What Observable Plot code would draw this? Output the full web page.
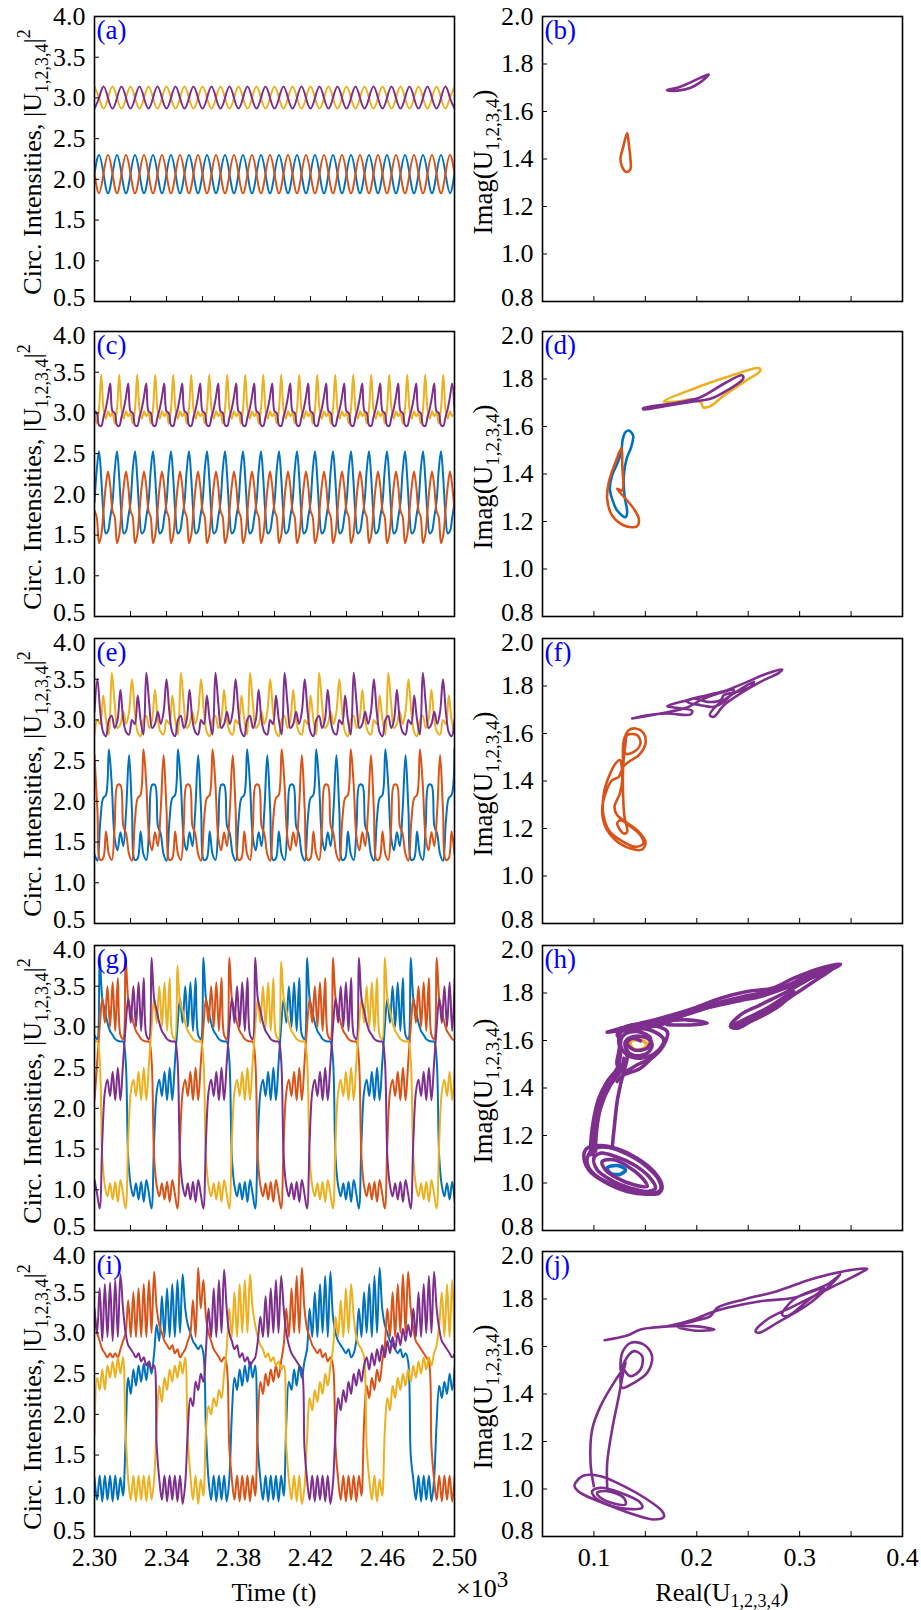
<!DOCTYPE html>
<html><head><meta charset="utf-8">
<script src="https://cdn.jsdelivr.net/npm/d3@7"></script>
<script src="https://cdn.jsdelivr.net/npm/@observablehq/plot@0.6"></script>
<style>
body{margin:0;background:#fff;}
#fig{position:relative;width:921px;height:1610px;overflow:hidden;}
#fig svg{position:absolute;}
</style></head><body><div id="fig"></div>
<script>
// ---------- colours / series ----------
const COLORS = {blue:"#0072BD", orange:"#D95319", yellow:"#EDB120", purple:"#7E2F8E"};
const SERIES = ["blue","orange","yellow","purple"];

// ---------- tick values ----------
const tLabelTicks = [2.30, 2.34, 2.38, 2.42, 2.46, 2.50];
const tMinorTicks = [2.32, 2.34, 2.36, 2.38, 2.40, 2.42, 2.44, 2.46, 2.48];
const intensityTicks = [0.5, 1.0, 1.5, 2.0, 2.5, 3.0, 3.5, 4.0];
const intensityMinor = [1.0, 1.5, 2.0, 2.5, 3.0, 3.5];
const reLabelTicks = [0.1, 0.2, 0.3, 0.4];
const reMinorTicks = [0.1, 0.15, 0.2, 0.25, 0.3, 0.35];
const imTicks = [0.8, 1.0, 1.2, 1.4, 1.6, 1.8, 2.0];
const imMinor = [1.0, 1.2, 1.4, 1.6, 1.8];
const panelLabels = ["(a)","(b)","(c)","(d)","(e)","(f)","(g)","(h)","(i)","(j)"];

// ---------- time series (values at knots, time step dt in units of 10^3) ----------
const T0 = 2.30;
const dtA = 0.0025;
const aBlue = [
2.07,2.30,2.07,1.83,2.07,2.30,2.07,1.83,2.07,2.30,2.07,1.83,2.07,2.30,2.07,1.83,2.07,2.30,2.07,1.83,
2.07,2.30,2.07,1.83,2.07,2.30,2.07,1.83,2.07,2.30,2.07,1.83,2.07,2.30,2.07,1.83,2.07,2.30,2.07,1.83,
2.07,2.30,2.07,1.83,2.07,2.30,2.07,1.83,2.07,2.30,2.07,1.83,2.07,2.30,2.07,1.83,2.07,2.30,2.07,1.83,
2.07,2.30,2.07,1.83,2.07,2.30,2.07,1.83,2.07,2.30,2.07,1.83,2.07,2.30,2.07,1.83,2.07,2.30,2.07,1.83,
2.07];
const aOrange = [
2.07,1.83,2.07,2.30,2.07,1.83,2.07,2.30,2.07,1.83,2.07,2.30,2.07,1.83,2.07,2.30,2.07,1.83,2.07,2.30,
2.07,1.83,2.07,2.30,2.07,1.83,2.07,2.30,2.07,1.83,2.07,2.30,2.07,1.83,2.07,2.30,2.07,1.83,2.07,2.30,
2.07,1.83,2.07,2.30,2.07,1.83,2.07,2.30,2.07,1.83,2.07,2.30,2.07,1.83,2.07,2.30,2.07,1.83,2.07,2.30,
2.07,1.83,2.07,2.30,2.07,1.83,2.07,2.30,2.07,1.83,2.07,2.30,2.07,1.83,2.07,2.30,2.07,1.83,2.07,2.30,
2.07];
const aYellow = [
3.14,3.0,2.87,3.0,3.14,3.0,2.87,3.0,3.14,3.0,2.87,3.0,3.14,3.0,2.87,3.0,3.14,3.0,2.87,3.0,
3.14,3.0,2.87,3.0,3.14,3.0,2.87,3.0,3.14,3.0,2.87,3.0,3.14,3.0,2.87,3.0,3.14,3.0,2.87,3.0,
3.14,3.0,2.87,3.0,3.14,3.0,2.87,3.0,3.14,3.0,2.87,3.0,3.14,3.0,2.87,3.0,3.14,3.0,2.87,3.0,
3.14,3.0,2.87,3.0,3.14,3.0,2.87,3.0,3.14,3.0,2.87,3.0,3.14,3.0,2.87,3.0,3.14,3.0,2.87,3.0,
3.14];
const aPurple = [
2.87,3.0,3.14,3.0,2.87,3.0,3.14,3.0,2.87,3.0,3.14,3.0,2.87,3.0,3.14,3.0,2.87,3.0,3.14,3.0,
2.87,3.0,3.14,3.0,2.87,3.0,3.14,3.0,2.87,3.0,3.14,3.0,2.87,3.0,3.14,3.0,2.87,3.0,3.14,3.0,
2.87,3.0,3.14,3.0,2.87,3.0,3.14,3.0,2.87,3.0,3.14,3.0,2.87,3.0,3.14,3.0,2.87,3.0,3.14,3.0,
2.87,3.0,3.14,3.0,2.87,3.0,3.14,3.0,2.87,3.0,3.14,3.0,2.87,3.0,3.14,3.0,2.87,3.0,3.14,3.0,
2.87];

const dtC = 0.00125;
const cBlue = [
1.9,2.3,2.53,2.2,1.75,1.52,1.55,1.72,1.9,2.3,2.53,2.2,1.75,1.52,1.55,1.72,
1.9,2.3,2.53,2.2,1.75,1.52,1.55,1.72,1.9,2.3,2.53,2.2,1.75,1.52,1.55,1.72,
1.9,2.3,2.53,2.2,1.75,1.52,1.55,1.72,1.9,2.3,2.53,2.2,1.75,1.52,1.55,1.72,
1.9,2.3,2.53,2.2,1.75,1.52,1.55,1.72,1.9,2.3,2.53,2.2,1.75,1.52,1.55,1.72,
1.9,2.3,2.53,2.2,1.75,1.52,1.55,1.72,1.9,2.3,2.53,2.2,1.75,1.52,1.55,1.72,
1.9,2.3,2.53,2.2,1.75,1.52,1.55,1.72,1.9,2.3,2.53,2.2,1.75,1.52,1.55,1.72,
1.9,2.3,2.53,2.2,1.75,1.52,1.55,1.72,1.9,2.3,2.53,2.2,1.75,1.52,1.55,1.72,
1.9,2.3,2.53,2.2,1.75,1.52,1.55,1.72,1.9,2.3,2.53,2.2,1.75,1.52,1.55,1.72,
1.9,2.3,2.53,2.2,1.75,1.52,1.55,1.72,1.9,2.3,2.53,2.2,1.75,1.52,1.55,1.72,
1.9,2.3,2.53,2.2,1.75,1.52,1.55,1.72,1.9,2.3,2.53,2.2,1.75,1.52,1.55,1.72,
1.9];
const cOrange = [
1.8,1.72,1.40,1.5,1.8,2.1,2.28,2.1,1.8,1.72,1.40,1.5,1.8,2.1,2.28,2.1,
1.8,1.72,1.40,1.5,1.8,2.1,2.28,2.1,1.8,1.72,1.40,1.5,1.8,2.1,2.28,2.1,
1.8,1.72,1.40,1.5,1.8,2.1,2.28,2.1,1.8,1.72,1.40,1.5,1.8,2.1,2.28,2.1,
1.8,1.72,1.40,1.5,1.8,2.1,2.28,2.1,1.8,1.72,1.40,1.5,1.8,2.1,2.28,2.1,
1.8,1.72,1.40,1.5,1.8,2.1,2.28,2.1,1.8,1.72,1.40,1.5,1.8,2.1,2.28,2.1,
1.8,1.72,1.40,1.5,1.8,2.1,2.28,2.1,1.8,1.72,1.40,1.5,1.8,2.1,2.28,2.1,
1.8,1.72,1.40,1.5,1.8,2.1,2.28,2.1,1.8,1.72,1.40,1.5,1.8,2.1,2.28,2.1,
1.8,1.72,1.40,1.5,1.8,2.1,2.28,2.1,1.8,1.72,1.40,1.5,1.8,2.1,2.28,2.1,
1.8,1.72,1.40,1.5,1.8,2.1,2.28,2.1,1.8,1.72,1.40,1.5,1.8,2.1,2.28,2.1,
1.8,1.72,1.40,1.5,1.8,2.1,2.28,2.1,1.8,1.72,1.40,1.5,1.8,2.1,2.28,2.1,
1.8];
const cYellow = [
3.0,2.87,3.05,3.47,3.05,2.93,3.02,2.96,3.0,2.87,3.05,3.47,3.05,2.93,3.02,2.96,
3.0,2.87,3.05,3.47,3.05,2.93,3.02,2.96,3.0,2.87,3.05,3.47,3.05,2.93,3.02,2.96,
3.0,2.87,3.05,3.47,3.05,2.93,3.02,2.96,3.0,2.87,3.05,3.47,3.05,2.93,3.02,2.96,
3.0,2.87,3.05,3.47,3.05,2.93,3.02,2.96,3.0,2.87,3.05,3.47,3.05,2.93,3.02,2.96,
3.0,2.87,3.05,3.47,3.05,2.93,3.02,2.96,3.0,2.87,3.05,3.47,3.05,2.93,3.02,2.96,
3.0,2.87,3.05,3.47,3.05,2.93,3.02,2.96,3.0,2.87,3.05,3.47,3.05,2.93,3.02,2.96,
3.0,2.87,3.05,3.47,3.05,2.93,3.02,2.96,3.0,2.87,3.05,3.47,3.05,2.93,3.02,2.96,
3.0,2.87,3.05,3.47,3.05,2.93,3.02,2.96,3.0,2.87,3.05,3.47,3.05,2.93,3.02,2.96,
3.0,2.87,3.05,3.47,3.05,2.93,3.02,2.96,3.0,2.87,3.05,3.47,3.05,2.93,3.02,2.96,
3.0,2.87,3.05,3.47,3.05,2.93,3.02,2.96,3.0,2.87,3.05,3.47,3.05,2.93,3.02,2.96,
3.0];
const cPurple = [
3.02,3.0,2.85,2.84,2.95,3.05,3.2,3.36,3.02,3.0,2.85,2.84,2.95,3.05,3.2,3.36,
3.02,3.0,2.85,2.84,2.95,3.05,3.2,3.36,3.02,3.0,2.85,2.84,2.95,3.05,3.2,3.36,
3.02,3.0,2.85,2.84,2.95,3.05,3.2,3.36,3.02,3.0,2.85,2.84,2.95,3.05,3.2,3.36,
3.02,3.0,2.85,2.84,2.95,3.05,3.2,3.36,3.02,3.0,2.85,2.84,2.95,3.05,3.2,3.36,
3.02,3.0,2.85,2.84,2.95,3.05,3.2,3.36,3.02,3.0,2.85,2.84,2.95,3.05,3.2,3.36,
3.02,3.0,2.85,2.84,2.95,3.05,3.2,3.36,3.02,3.0,2.85,2.84,2.95,3.05,3.2,3.36,
3.02,3.0,2.85,2.84,2.95,3.05,3.2,3.36,3.02,3.0,2.85,2.84,2.95,3.05,3.2,3.36,
3.02,3.0,2.85,2.84,2.95,3.05,3.2,3.36,3.02,3.0,2.85,2.84,2.95,3.05,3.2,3.36,
3.02,3.0,2.85,2.84,2.95,3.05,3.2,3.36,3.02,3.0,2.85,2.84,2.95,3.05,3.2,3.36,
3.02,3.0,2.85,2.84,2.95,3.05,3.2,3.36,3.02,3.0,2.85,2.84,2.95,3.05,3.2,3.36,
3.02];

const dtE = 0.0016;
const eBlue = [
1.35,1.27,1.75,2.04,2.08,2.64,2.2,1.55,1.4,1.62,1.45,1.9,2.57,1.9,1.28,1.3,1.63,1.35,1.28,1.7,2.2,2.2,1.7,1.6,
1.35,1.27,1.75,2.04,2.08,2.64,2.2,1.55,1.4,1.62,1.45,1.9,2.57,1.9,1.28,1.3,1.63,1.35,1.28,1.7,2.2,2.2,1.7,1.6,
1.35,1.27,1.75,2.04,2.08,2.64,2.2,1.55,1.4,1.62,1.45,1.9,2.57,1.9,1.28,1.3,1.63,1.35,1.28,1.7,2.2,2.2,1.7,1.6,
1.35,1.27,1.75,2.04,2.08,2.64,2.2,1.55,1.4,1.62,1.45,1.9,2.57,1.9,1.28,1.3,1.63,1.35,1.28,1.7,2.2,2.2,1.7,1.6,
1.35,1.27,1.75,2.04,2.08,2.64,2.2,1.55,1.4,1.62,1.45,1.9,2.57,1.9,1.28,1.3,1.63,1.35,1.28,1.7,2.2,2.2,1.7,1.6,
1.35,1.27,1.75,2.04,2.08,2.64];
const eOrange = [
2.57,1.9,1.28,1.3,1.63,1.35,1.28,1.7,2.2,2.2,1.7,1.6,1.35,1.27,1.75,2.04,2.08,2.64,2.2,1.55,1.4,1.62,1.45,1.9,
2.57,1.9,1.28,1.3,1.63,1.35,1.28,1.7,2.2,2.2,1.7,1.6,1.35,1.27,1.75,2.04,2.08,2.64,2.2,1.55,1.4,1.62,1.45,1.9,
2.57,1.9,1.28,1.3,1.63,1.35,1.28,1.7,2.2,2.2,1.7,1.6,1.35,1.27,1.75,2.04,2.08,2.64,2.2,1.55,1.4,1.62,1.45,1.9,
2.57,1.9,1.28,1.3,1.63,1.35,1.28,1.7,2.2,2.2,1.7,1.6,1.35,1.27,1.75,2.04,2.08,2.64,2.2,1.55,1.4,1.62,1.45,1.9,
2.57,1.9,1.28,1.3,1.63,1.35,1.28,1.7,2.2,2.2,1.7,1.6,1.35,1.27,1.75,2.04,2.08,2.64,2.2,1.55,1.4,1.62,1.45,1.9,
2.57,1.9,1.28,1.3,1.63,1.35];
const eYellow = [
2.82,3.0,2.95,3.3,3.0,2.82,3.58,3.2,2.9,2.95,3.1,2.95,3.1,3.5,3.1,2.85,2.8,3.0,3.05,2.9,3.0,3.37,3.0,2.85,
2.82,3.0,2.95,3.3,3.0,2.82,3.58,3.2,2.9,2.95,3.1,2.95,3.1,3.5,3.1,2.85,2.8,3.0,3.05,2.9,3.0,3.37,3.0,2.85,
2.82,3.0,2.95,3.3,3.0,2.82,3.58,3.2,2.9,2.95,3.1,2.95,3.1,3.5,3.1,2.85,2.8,3.0,3.05,2.9,3.0,3.37,3.0,2.85,
2.82,3.0,2.95,3.3,3.0,2.82,3.58,3.2,2.9,2.95,3.1,2.95,3.1,3.5,3.1,2.85,2.8,3.0,3.05,2.9,3.0,3.37,3.0,2.85,
2.82,3.0,2.95,3.3,3.0,2.82,3.58,3.2,2.9,2.95,3.1,2.95,3.1,3.5,3.1,2.85,2.8,3.0,3.05,2.9,3.0,3.37,3.0,2.85,
2.82,3.0,2.95,3.3,3.0,2.82];
const ePurple = [
3.1,3.5,3.1,2.85,2.8,3.0,3.05,2.9,3.0,3.37,3.0,2.85,2.82,3.0,2.95,3.3,3.0,2.82,3.58,3.2,2.9,2.95,3.1,2.95,
3.1,3.5,3.1,2.85,2.8,3.0,3.05,2.9,3.0,3.37,3.0,2.85,2.82,3.0,2.95,3.3,3.0,2.82,3.58,3.2,2.9,2.95,3.1,2.95,
3.1,3.5,3.1,2.85,2.8,3.0,3.05,2.9,3.0,3.37,3.0,2.85,2.82,3.0,2.95,3.3,3.0,2.82,3.58,3.2,2.9,2.95,3.1,2.95,
3.1,3.5,3.1,2.85,2.8,3.0,3.05,2.9,3.0,3.37,3.0,2.85,2.82,3.0,2.95,3.3,3.0,2.82,3.58,3.2,2.9,2.95,3.1,2.95,
3.1,3.5,3.1,2.85,2.8,3.0,3.05,2.9,3.0,3.37,3.0,2.85,2.82,3.0,2.95,3.3,3.0,2.82,3.58,3.2,2.9,2.95,3.1,2.95,
3.1,3.5,3.1,2.85,2.8,3.0];

const dtG = 0.00144;
const gBlue = [
2.9,2.85,
3.85,3.35,3.2,3.05,2.95,2.9,2.85,2.83,2.82,2.82,2.6,1.4,1.05,0.92,1.08,0.88,1.1,0.85,1.12,0.95,0.77,1.6,2.2,2.35,2.15,2.45,2.1,2.5,2.1,2.55,3.0,3.35,3.05,3.5,3.0,3.55,2.95,3.6,2.9,2.85,
3.85,3.35,3.2,3.05,2.95,2.9,2.85,2.83,2.82,2.82,2.6,1.4,1.05,0.92,1.08,0.88,1.1,0.85,1.12,0.95,0.77,1.6,2.2,2.35,2.15,2.45,2.1,2.5,2.1,2.55,3.0,3.35,3.05,3.5,3.0,3.55,2.95,3.6,2.9,2.85,
3.85,3.35,3.2,3.05,2.95,2.9,2.85,2.83,2.82,2.82,2.6,1.4,1.05,0.92,1.08,0.88,1.1,0.85,1.12,0.95,0.77,1.6,2.2,2.35,2.15,2.45,2.1,2.5,2.1,2.55,3.0,3.35,3.05,3.5,3.0,3.55,2.95,3.6,2.9,2.85,
3.85,3.35,3.2,3.05,2.95,2.9,2.85,2.83,2.82,2.82,2.6,1.4,1.05,0.92,1.08,0.88,1.1,0.85];
const gOrange = [
2.1,2.55,3.0,3.35,3.05,3.5,3.0,3.55,2.95,3.6,2.9,2.85,
3.85,3.35,3.2,3.05,2.95,2.9,2.85,2.83,2.82,2.82,2.6,1.4,1.05,0.92,1.08,0.88,1.1,0.85,1.12,0.95,0.77,1.6,2.2,2.35,2.15,2.45,2.1,2.5,2.1,2.55,3.0,3.35,3.05,3.5,3.0,3.55,2.95,3.6,2.9,2.85,
3.85,3.35,3.2,3.05,2.95,2.9,2.85,2.83,2.82,2.82,2.6,1.4,1.05,0.92,1.08,0.88,1.1,0.85,1.12,0.95,0.77,1.6,2.2,2.35,2.15,2.45,2.1,2.5,2.1,2.55,3.0,3.35,3.05,3.5,3.0,3.55,2.95,3.6,2.9,2.85,
3.85,3.35,3.2,3.05,2.95,2.9,2.85,2.83,2.82,2.82,2.6,1.4,1.05,0.92,1.08,0.88,1.1,0.85,1.12,0.95,0.77,1.6,2.2,2.35,2.15,2.45,2.1,2.5,2.1,2.55,3.0,3.35,3.05,3.5,3.0,3.55,2.95,3.6,2.9,2.85,
3.85,3.35,3.2,3.05,2.95,2.9,2.85,2.83];
const gPurple = [
1.12,0.95,0.77,1.6,2.2,2.35,2.15,2.45,2.1,2.5,2.1,2.55,3.0,3.35,3.05,3.5,3.0,3.55,2.95,3.6,2.9,2.85,
3.85,3.35,3.2,3.05,2.95,2.9,2.85,2.83,2.82,2.82,2.6,1.4,1.05,0.92,1.08,0.88,1.1,0.85,1.12,0.95,0.77,1.6,2.2,2.35,2.15,2.45,2.1,2.5,2.1,2.55,3.0,3.35,3.05,3.5,3.0,3.55,2.95,3.6,2.9,2.85,
3.85,3.35,3.2,3.05,2.95,2.9,2.85,2.83,2.82,2.82,2.6,1.4,1.05,0.92,1.08,0.88,1.1,0.85,1.12,0.95,0.77,1.6,2.2,2.35,2.15,2.45,2.1,2.5,2.1,2.55,3.0,3.35,3.05,3.5,3.0,3.55,2.95,3.6,2.9,2.85,
3.85,3.35,3.2,3.05,2.95,2.9,2.85,2.83,2.82,2.82,2.6,1.4,1.05,0.92,1.08,0.88,1.1,0.85,1.12,0.95,0.77,1.6,2.2,2.35,2.15,2.45,2.1,2.5,2.1,2.55,3.0,3.35,3.05,3.5,3.0,3.55,2.95,3.6];
const gYellow = [
2.82,2.82,2.6,1.4,1.05,0.92,1.08,0.88,1.1,0.85,1.12,0.95,0.77,1.6,2.2,2.35,2.15,2.45,2.1,2.5,2.1,2.55,3.0,3.35,3.05,3.5,3.0,3.55,2.95,3.6,2.9,2.85,
3.75,3.3,3.2,3.05,2.95,2.9,2.85,2.83,2.82,2.82,2.6,1.4,1.05,0.92,1.08,0.88,1.1,0.85,1.12,0.95,0.77,1.6,2.2,2.35,2.15,2.45,2.1,2.5,2.1,2.55,3.0,3.35,3.05,3.5,3.0,3.55,2.95,3.6,2.9,2.85,
3.8,3.35,3.2,3.05,2.95,2.9,2.85,2.83,2.82,2.82,2.6,1.4,1.05,0.92,1.08,0.88,1.1,0.85,1.12,0.95,0.77,1.6,2.2,2.35,2.15,2.45,2.1,2.5,2.1,2.55,3.0,3.35,3.05,3.5,3.0,3.55,2.95,3.6,2.9,2.85,
3.85,3.35,3.2,3.05,2.95,2.9,2.85,2.83,2.82,2.82,2.6,1.4,1.05,0.92,1.08,0.88,1.1,0.85,1.12,0.95,0.77,1.6,2.2,2.35,2.15,2.45,2.1,2.5];

const dtI = 0.00144;
const iBlue = [
1.22,0.95,1.25,0.93,1.25,0.95,1.25,0.93,1.25,0.95,1.22,1.0,
1.7,2.45,
2.25,2.55,2.35,2.6,2.4,2.62,2.42,2.65,2.5,2.75,
3.1,2.9,3.45,2.95,3.55,2.95,3.6,2.95,3.65,3.0,3.72,3.3,
3.1,3.0,2.9,2.85,2.8,2.85,2.75,
1.8,
1.2,0.95,1.25,0.93,1.25,0.95,1.25,0.93,1.2,
2.0,
2.45,2.3,2.55,2.35,2.6,2.4,2.65,2.45,2.6,
1.6,
1.2,0.95,1.25,0.93,1.25,0.95,1.25,0.93,1.25,1.0,
1.9,
2.4,2.3,2.55,2.35,2.6,2.45,2.65,2.8,
3.3,2.95,3.5,2.95,3.6,3.0,3.7,2.95,3.75,3.2,
3.0,2.9,2.85,2.8,2.75,2.8,2.7,2.75,2.9,
3.3,2.95,3.5,3.0,3.6,2.95,3.7,3.0,3.8,3.3,
3.1,3.0,2.9,2.85,2.8,2.75,2.8,2.7,2.75,2.65,
1.5,
1.2,0.95,1.25,0.93,1.25,0.95,1.25,0.93,1.2,
1.9,
2.35,2.2,2.4,2.25,2.5,2.3,2.6];
const iOrange = [
3.25,3.0,2.9,2.8,2.75,2.7,2.75,2.7,2.75,2.7,2.8,2.9,3.0,
3.4,2.95,3.5,2.95,3.55,2.95,3.6,2.95,3.65,3.0,3.75,3.3,
3.1,3.0,2.9,2.85,2.8,2.85,2.75,2.8,2.7,2.75,2.8,2.9,3.0,
3.4,2.95,3.8,3.3,3.65,3.2,
3.0,2.9,2.8,2.75,2.7,2.65,2.7,2.6,
1.6,
1.2,0.95,1.25,0.93,1.25,0.95,1.25,0.93,1.25,1.0,
1.9,
2.4,2.25,2.5,2.35,2.55,2.4,2.6,2.45,2.65,2.85,
3.3,2.95,3.55,3.0,3.7,3.0,3.8,
3.3,3.05,2.95,2.85,2.8,2.75,2.8,2.7,2.75,2.65,2.7,2.6,
1.6,
1.2,0.95,1.25,0.93,1.25,0.95,1.25,0.93,1.25,1.0,
1.9,
2.35,2.2,2.45,2.3,2.55,2.4,2.65,2.85,
3.3,2.95,3.5,2.95,3.6,3.0,3.72,3.0,3.75,
3.3,3.05,2.9,2.85,2.8,2.75,2.7,2.65,
1.6,
1.2,0.95,1.25,0.93,1.25,0.95,1.25,0.93,1.25];
const iYellow = [
1.75,2.45,
2.3,2.55,2.3,2.6,2.45,2.65,2.45,2.7,2.5,2.7,
1.8,
1.2,0.95,1.25,0.93,1.25,0.95,1.25,0.93,1.25,0.95,1.2,
1.9,
2.35,2.15,2.45,2.3,2.55,2.4,2.6,2.45,2.65,2.5,2.7,
1.7,
1.25,0.95,1.25,0.9,1.2,1.0,
1.8,
2.1,2.0,2.2,2.1,2.3,2.2,2.5,2.8,
3.3,2.95,3.5,2.95,3.6,3.0,3.65,3.0,3.72,3.3,
3.1,2.95,2.85,2.8,2.7,2.75,2.65,2.7,2.6,2.65,2.55,2.6,
1.6,
1.2,0.95,1.25,0.93,1.25,0.9,1.1,
1.7,
2.2,2.05,2.3,2.15,2.4,2.25,2.5,2.35,2.6,2.8,
3.2,2.95,3.4,2.95,3.55,3.0,3.6,3.2,
2.95,2.85,2.8,2.7,
1.6,
1.2,0.95,1.25,0.93,1.2,1.0,
1.8,
2.2,2.05,2.35,2.2,2.45,2.3,2.5,2.35,2.55,2.4,2.6,2.45,2.65,2.5,2.7,2.55,2.7,2.6,2.75,2.85,
3.1,3.5,2.95,3.6,2.95,3.65,2.8];
const iPurple = [
3.3,3.0,3.55,2.9,3.6,2.95,3.62,2.9,3.65,2.95,3.72,3.3,
3.0,2.85,2.8,2.75,2.7,2.75,2.65,2.7,2.6,2.65,2.55,2.6,
1.6,
1.2,0.95,1.25,0.93,1.25,0.95,1.25,0.93,1.25,0.9,1.15,
1.8,
2.2,2.1,2.4,2.3,2.5,2.4,2.8,
3.3,2.95,3.55,2.95,3.65,3.0,3.78,3.3,
3.0,2.9,2.8,2.85,2.7,2.75,2.65,2.7,2.6,2.65,2.7,2.9,
3.2,2.95,3.45,2.95,3.55,3.0,3.65,3.0,3.7,3.3,
3.0,2.85,2.75,2.7,2.65,2.6,2.55,
1.6,
1.2,0.95,1.25,0.93,1.25,0.95,1.25,0.93,1.25,0.9,1.15,
1.8,
2.2,2.05,2.3,2.15,2.4,2.25,2.5,2.35,2.55,2.4,2.6,
2.7,2.55,2.75,2.6,2.8,2.65,2.85,2.7,2.9,2.75,2.95,2.8,3.0,2.85,3.05,2.9,3.1,2.95,
3.3,2.95,3.5,2.95,3.6,3.0,3.7,3.0,3.75,3.3,
3.05,2.9,2.85,2.8,2.75,2.7,2.75];

// ---------- phase portraits: [Real, Imag] points ----------
const bOrange = [[0.1323,1.509],[0.1339,1.464],[0.1356,1.394],[0.1356,1.359],[0.1317,1.345],[0.1275,1.366],[0.1258,1.401],[0.1284,1.450]];
const bPurple = [[0.171,1.690],[0.181,1.688],[0.194,1.700],[0.2036,1.7235],[0.2117,1.756],[0.2036,1.742],[0.1907,1.7165],[0.181,1.700]];

const dBlue = [[0.1339,1.583],[0.1381,1.562],[0.1362,1.513],[0.1317,1.464],[0.1291,1.394],[0.1297,1.310],[0.1323,1.239],[0.1307,1.218],[0.1226,1.246],[0.1177,1.295],[0.1155,1.338],[0.1177,1.394],[0.1226,1.443],[0.1265,1.492],[0.1281,1.548],[0.1307,1.576]];
const dOrange = [[0.1268,1.509],[0.1275,1.440],[0.1275,1.331],[0.1226,1.3375],[0.1300,1.300],[0.1388,1.253],[0.1437,1.210],[0.1420,1.180],[0.1372,1.176],[0.1291,1.183],[0.1177,1.225],[0.1129,1.295],[0.1145,1.366],[0.1210,1.450]];
const dYellow = [[0.168,1.705],[0.197,1.759],[0.2295,1.808],[0.2603,1.846],[0.2619,1.836],[0.2457,1.787],[0.2263,1.730],[0.2133,1.686],[0.2062,1.681],[0.2043,1.700],[0.1971,1.714],[0.1809,1.705]];
const dPurple = [[0.1479,1.677],[0.1809,1.700],[0.2036,1.7235],[0.2263,1.780],[0.2441,1.815],[0.2451,1.801],[0.2295,1.752],[0.2133,1.7165],[0.1971,1.705],[0.1712,1.688],[0.1479,1.672]];

const fOrange = [[0.1284,1.4737],[0.1291,1.5719],[0.1339,1.6140],[0.1404,1.6211],[0.1485,1.6000],[0.1501,1.5579],[0.1437,1.5088],[0.1339,1.4807],[0.1284,1.4596],[0.1242,1.4175],[0.1177,1.4035],[0.1112,1.3474],[0.1080,1.2772],[0.1112,1.2070],[0.1210,1.1509],[0.1356,1.1158],[0.1469,1.1116],[0.1501,1.1439],[0.1437,1.1860],[0.1307,1.2281],[0.1226,1.2561],[0.1200,1.2912],[0.1252,1.3474],[0.1275,1.4035],[0.1252,1.4877],[0.1210,1.4737],[0.1145,1.4175],[0.1096,1.3474],[0.1090,1.2632],[0.1145,1.1930],[0.1258,1.1509],[0.1404,1.1228],[0.1479,1.1368],[0.1453,1.1719],[0.1339,1.2140],[0.1258,1.2351],[0.1226,1.2211],[0.1291,1.1789],[0.1323,1.1860],[0.1297,1.2491],[0.1284,1.3333],[0.1284,1.4596],[0.1307,1.5579],[0.1323,1.5930],[0.1420,1.5930],[0.1453,1.5579],[0.1388,1.5228],[0.1307,1.5158],[0.1291,1.5579]];
const fPurple = [[0.1372,1.6632],[0.1518,1.6772],[0.1712,1.6842],[0.1939,1.6800],[0.1955,1.6954],[0.1777,1.7095],[0.1712,1.7151],[0.1906,1.7404],[0.2101,1.7614],[0.2295,1.7825],[0.2490,1.8175],[0.2684,1.8526],[0.2830,1.8695],[0.2798,1.8554],[0.2619,1.8175],[0.2425,1.7684],[0.2263,1.7193],[0.2166,1.6702],[0.2127,1.6772],[0.2198,1.7193],[0.2360,1.7684],[0.2555,1.8175],[0.2522,1.7965],[0.2393,1.7754],[0.2263,1.7614],[0.2231,1.7404],[0.2101,1.7333],[0.1971,1.7474],[0.1906,1.7333],[0.2036,1.7193],[0.2166,1.7123],[0.2263,1.7333],[0.2360,1.7825],[0.2231,1.7712],[0.2036,1.7404],[0.1906,1.7095],[0.1647,1.6842],[0.1372,1.6632]];

const hBlueCore = [[0.1129,1.0625],[0.1226,1.0737],[0.1307,1.0554],[0.1258,1.0372],[0.1161,1.0414]];
const hYellowMid = [[0.1356,1.5958],[0.1453,1.6028],[0.1518,1.5818],[0.1453,1.5607],[0.1372,1.5677]];
const hOrangeLobe = [[0.2344,1.6548],[0.2555,1.6870],[0.2814,1.7502],[0.2943,1.8063],[0.2814,1.7642],[0.2555,1.7011]];
const hPurpleLowOuter = [[0.0902,1.1186],[0.0934,1.1467],[0.1064,1.1579],[0.1226,1.1439],[0.1420,1.1046],[0.1582,1.0484],[0.1663,0.9853],[0.1631,0.9572],[0.1518,0.9530],[0.1323,0.9642],[0.1096,1.0063],[0.0950,1.0554]];
const hPurpleLow2 = [[0.0934,1.1046],[0.0999,1.1439],[0.1145,1.1495],[0.1323,1.1214],[0.1501,1.0737],[0.1631,1.0133],[0.1647,0.9712],[0.1566,0.9558],[0.1420,0.9600],[0.1226,0.9853],[0.1031,1.0274],[0.0944,1.0695]];
const hPurpleLowMid = [[0.0999,1.1046],[0.1064,1.1256],[0.1210,1.1116],[0.1388,1.0765],[0.1534,1.0274],[0.1599,0.9782],[0.1518,0.9642],[0.1356,0.9782],[0.1161,1.0133],[0.1031,1.0554]];
const hPurpleLowInner = [[0.1080,1.0905],[0.1193,1.0975],[0.1356,1.0625],[0.1485,1.0133],[0.1518,0.9853],[0.1388,0.9923],[0.1226,1.0204],[0.1112,1.0554]];
const hPurpleStemL1 = [[0.0967,1.1186],[0.0973,1.1888],[0.0999,1.2730],[0.1048,1.3572],[0.1129,1.4274],[0.1226,1.4835],[0.1258,1.5396],[0.1242,1.6098],[0.1291,1.6519],[0.1388,1.6660]];
const hPurpleStemL2 = [[0.1015,1.1326],[0.1025,1.2168],[0.1064,1.3151],[0.1161,1.4133],[0.1258,1.4695],[0.1291,1.5256]];
const hPurpleStemL3 = [[0.0993,1.1186],[0.0999,1.2168],[0.1031,1.3011],[0.1096,1.3853],[0.1193,1.4414],[0.1258,1.4975]];
const hPurpleStemR = [[0.1177,1.1467],[0.1200,1.2449],[0.1226,1.3432],[0.1258,1.4133],[0.1291,1.4695],[0.1323,1.5256],[0.1307,1.5958]];
const hPurpleMid = [[0.1258,1.6379],[0.1388,1.6519],[0.1582,1.6379],[0.1680,1.6028],[0.1615,1.5537],[0.1453,1.5256],[0.1323,1.5396],[0.1258,1.5818],[0.1291,1.6239],[0.1420,1.6379],[0.1550,1.6098],[0.1518,1.5677],[0.1388,1.5607],[0.1323,1.5888],[0.1372,1.6098],[0.1453,1.5986]];
const hPurpleMid2 = [[0.1226,1.6239],[0.1323,1.6590],[0.1518,1.6660],[0.1712,1.6379],[0.1696,1.5958],[0.1582,1.5326],[0.1420,1.4975],[0.1291,1.4695],[0.1226,1.4975],[0.1242,1.5537],[0.1258,1.6028]];
const hPurpleMid3 = [[0.1307,1.5958],[0.1388,1.6169],[0.1518,1.6098],[0.1566,1.5818],[0.1518,1.5467],[0.1388,1.5368],[0.1317,1.5607]];
const hPurpleMidLow = [[0.1226,1.4274],[0.1291,1.4554],[0.1453,1.4835],[0.1615,1.5537]];
const hPurpleBand = [[0.1129,1.6351],[0.1388,1.6660],[0.1647,1.6940],[0.1971,1.7361],[0.2231,1.7782],[0.2490,1.8063],[0.2733,1.8204],[0.2943,1.8625],[0.3203,1.9046],[0.3397,1.9214],[0.3365,1.9116],[0.3105,1.8625],[0.2879,1.8063],[0.2619,1.7502],[0.2425,1.7081],[0.2328,1.6590],[0.2393,1.6519],[0.2522,1.6800],[0.2749,1.7361],[0.2943,1.7923],[0.3138,1.8484],[0.3332,1.9074],[0.2943,1.8344],[0.2619,1.7853],[0.2457,1.7712],[0.2231,1.7502],[0.1971,1.7221],[0.1809,1.6940],[0.1647,1.6660],[0.1485,1.6519],[0.1258,1.6407],[0.1129,1.6351]];
const hPurpleBand2 = [[0.1258,1.6519],[0.1647,1.6800],[0.1971,1.7193],[0.2295,1.7642],[0.2619,1.7993],[0.2943,1.8414],[0.3267,1.8905],[0.3381,1.9158]];
const hPurpleBand3 = [[0.1161,1.6379],[0.1485,1.6660],[0.1809,1.7011],[0.2133,1.7502],[0.2457,1.7853],[0.2781,1.8133],[0.3105,1.8765],[0.3365,1.9158]];
const hPurpleLobe = [[0.2328,1.6590],[0.2457,1.6870],[0.2684,1.7361],[0.2911,1.7993],[0.2943,1.8063],[0.2814,1.7502],[0.2619,1.7011],[0.2425,1.6660]];
const hPurpleLobe2 = [[0.2393,1.6660],[0.2619,1.7151],[0.2846,1.7712],[0.2717,1.7291],[0.2522,1.6870]];
const hPurpleTip = [[0.2943,1.8414],[0.3203,1.8905],[0.3397,1.9214],[0.3138,1.8695],[0.2943,1.8274]];
const hPurpleStray = [[0.1647,1.6800],[0.1906,1.6870],[0.2101,1.6730],[0.1971,1.6660],[0.1712,1.6660]];

const jPurpleLowOuter = [[0.0821,1.0260],[0.0902,1.0568],[0.1064,1.0540],[0.1291,1.0119],[0.1518,0.9558],[0.1663,0.9067],[0.1680,0.8828],[0.1582,0.8716],[0.1388,0.8926],[0.1129,0.9347],[0.0869,0.9839],[0.0811,1.0119]];
const jPurpleLowMid = [[0.0983,0.9909],[0.1064,1.0049],[0.1258,0.9839],[0.1453,0.9418],[0.1469,0.9207],[0.1323,0.9165],[0.1129,0.9347],[0.0999,0.9698]];
const jPurpleLowInner = [[0.1031,0.9839],[0.1129,0.9909],[0.1291,0.9628],[0.1307,0.9347],[0.1193,0.9389],[0.1064,0.9628]];
const jPurpleStemL = [[0.0999,1.0119],[0.0967,1.1102],[0.0983,1.2505],[0.1064,1.3488],[0.1193,1.4470],[0.1258,1.4891]];
const jPurpleStemR = [[0.1129,1.0049],[0.1129,1.1102],[0.1177,1.2505],[0.1242,1.3909],[0.1291,1.5032],[0.1307,1.5312]];
const jPurpleMid = [[0.1258,1.5032],[0.1275,1.5733],[0.1356,1.6154],[0.1485,1.6084],[0.1566,1.5593],[0.1518,1.4891],[0.1388,1.4470],[0.1275,1.4260],[0.1258,1.4751],[0.1291,1.5312],[0.1388,1.5804],[0.1469,1.5593],[0.1453,1.5032],[0.1356,1.4751],[0.1291,1.5032]];
const jPurpleTop = [[0.1103,1.6267],[0.1323,1.6463],[0.1453,1.6716],[0.1647,1.6828],[0.1971,1.6856],[0.2172,1.6716],[0.1971,1.6674],[0.1809,1.6856],[0.1971,1.7067],[0.2133,1.7277],[0.2198,1.7628],[0.2457,1.7979],[0.2781,1.8330],[0.3105,1.8821],[0.3430,1.9172],[0.3656,1.9270],[0.3592,1.9102],[0.3268,1.8400],[0.2943,1.7698],[0.2684,1.7137],[0.2571,1.6646],[0.2603,1.6575],[0.2781,1.6996],[0.3105,1.7839],[0.3397,1.9032],[0.3268,1.8611],[0.2943,1.7979],[0.2830,1.7347],[0.2879,1.7277],[0.3073,1.7909],[0.3235,1.8470],[0.2943,1.8049],[0.2619,1.7909],[0.2295,1.7628],[0.2133,1.7418],[0.1971,1.7137],[0.1712,1.6856],[0.1453,1.6716],[0.1323,1.6463],[0.1103,1.6267]];

// ---------- panel specs ----------
const timePanels = [
  {dt: dtA, curve: "natural", data: {blue: aBlue, orange: aOrange, yellow: aYellow, purple: aPurple}},
  {dt: dtC, curve: "catmull-rom", data: {blue: cBlue, orange: cOrange, yellow: cYellow, purple: cPurple}},
  {dt: dtE, curve: "catmull-rom", data: {blue: eBlue, orange: eOrange, yellow: eYellow, purple: ePurple}},
  {dt: dtG, curve: "catmull-rom", data: {blue: gBlue, orange: gOrange, yellow: gYellow, purple: gPurple}},
  {dt: dtI, curve: "catmull-rom", data: {blue: iBlue, orange: iOrange, yellow: iYellow, purple: iPurple}}
];
const phasePanels = [
  {w: 2.6, paths: [["orange", bOrange, true], ["purple", bPurple, true]]},
  {w: 2.6, paths: [["blue", dBlue, true], ["orange", dOrange, true], ["yellow", dYellow, true], ["purple", dPurple, true]]},
  {w: 2.6, paths: [["orange", fOrange, false], ["purple", fPurple, false]]},
  {w: 3.6, paths: [["blue", hBlueCore, true], ["yellow", hYellowMid, true], ["orange", hOrangeLobe, true],
     ["purple", hPurpleLowOuter, true], ["purple", hPurpleLow2, true], ["purple", hPurpleLowMid, true], ["purple", hPurpleLowInner, true],
     ["purple", hPurpleStemL1, false], ["purple", hPurpleStemL2, false], ["purple", hPurpleStemL3, false], ["purple", hPurpleStemR, false],
     ["purple", hPurpleMid, false], ["purple", hPurpleMid2, true], ["purple", hPurpleMid3, true], ["purple", hPurpleMidLow, false],
     ["purple", hPurpleBand, false], ["purple", hPurpleBand2, false], ["purple", hPurpleBand3, false],
     ["purple", hPurpleLobe, true], ["purple", hPurpleLobe2, true], ["purple", hPurpleTip, true], ["purple", hPurpleStray, false]]},
  {w: 2.6, paths: [["purple", jPurpleLowOuter, true], ["purple", jPurpleLowMid, true], ["purple", jPurpleLowInner, true],
     ["purple", jPurpleStemL, false], ["purple", jPurpleStemR, false], ["purple", jPurpleMid, false], ["purple", jPurpleTop, false]]}
];

// ---------- layout ----------
const FW = 360, FH = 285;
const rowTops = [16, 331, 638, 945, 1251];
const FONT = "'Liberation Serif', 'Times New Roman', serif";
const TICK_FS = 26;
const fmt1 = d3.format(".1f"), fmt2 = d3.format(".2f");
const fig = document.getElementById("fig");

function makePanel(isLeft, row, dataMarks, label) {
  const bottom = row === 4;
  const mt = 20, mb = bottom ? 48 : 6;
  const ml = isLeft ? 94 : 82, mr = isLeft ? 10 : 14;
  const yLabels = isLeft ? intensityTicks : imTicks;
  const yLow = yLabels[0], yHigh = yLabels[yLabels.length - 1];
  const yMid = yLabels.slice(1, -1);
  const axisOpts = {tickSize: 0, tickPadding: 9, tickFormat: fmt1, label: null, fontSize: TICK_FS, fill: "black"};
  const svg = Plot.plot({
    width: ml + FW + mr, height: mt + FH + mb,
    marginLeft: ml, marginRight: mr, marginTop: mt, marginBottom: mb,
    x: bottom ? {domain: isLeft ? [2.30, 2.50] : [0.05, 0.40], label: null}
              : {domain: isLeft ? [2.30, 2.50] : [0.05, 0.40], label: null, axis: null},
    y: {domain: isLeft ? [0.5, 4.0] : [0.8, 2.0], label: null},
    style: {fontFamily: FONT, fontSize: TICK_FS + "px", background: "transparent", overflow: "visible", color: "black"},
    marks: [
      ...dataMarks,
      Plot.tickX(isLeft ? tMinorTicks : reMinorTicks, {x: d => d, insetTop: FH - 5, stroke: "black", strokeWidth: 1}),
      Plot.tickY(isLeft ? intensityMinor : imMinor, {y: d => d, insetRight: FW - 5, stroke: "black", strokeWidth: 1}),
      Plot.axisY(yMid, axisOpts),
      Plot.axisY([yLow], {...axisOpts, dy: bottom ? -6 : -4}),
      Plot.axisY([yHigh], {...axisOpts, dy: row === 0 ? 0 : 4}),
      bottom ? Plot.axisX(isLeft ? tLabelTicks : reLabelTicks, {tickSize: 0, tickPadding: 11, tickFormat: isLeft ? fmt2 : fmt1, label: null, fontSize: TICK_FS, fill: "black"}) : null,
      Plot.frame({stroke: "black", strokeWidth: 1.6}),
      Plot.text([label], {text: d => d, frameAnchor: "top-left", dx: 2, dy: 3, fill: "#0000FF", fontSize: 27, fontFamily: FONT})
    ]
  });
  svg.style.left = (isLeft ? 0 : 460) + "px";
  svg.style.top = (rowTops[row] - mt) + "px";
  fig.appendChild(svg);
}

timePanels.forEach((p, row) => {
  const marks = SERIES.map(s => Plot.line(
    p.data[s].map((v, i) => ({t: T0 + i * p.dt, v})),
    {x: "t", y: "v", stroke: COLORS[s], strokeWidth: 2, curve: p.curve, clip: true}));
  makePanel(true, row, marks, panelLabels[row * 2]);
});

phasePanels.forEach((p, row) => {
  const marks = p.paths.map(([s, pts, closed]) => Plot.line(pts,
    {x: d => d[0], y: d => d[1], stroke: COLORS[s], strokeWidth: p.w,
     curve: closed ? "catmull-rom-closed" : "catmull-rom", clip: true}));
  makePanel(false, row, marks, panelLabels[row * 2 + 1]);
});

// ---------- axis titles ----------
const ov = d3.select(fig).append("svg")
  .attr("width", 921).attr("height", 1610)
  .style("left", "0px").style("top", "0px")
  .attr("font-family", FONT).attr("fill", "black");

rowTops.forEach(top => {
  const cy = top + 146;
  const t1 = ov.append("text").attr("transform", `translate(41,${cy}) rotate(-90)`)
    .attr("text-anchor", "middle").attr("font-size", 26);
  t1.append("tspan").text("Circ. Intensities, |U");
  t1.append("tspan").attr("dy", 7).attr("font-size", 18).text("1,2,3,4");
  t1.append("tspan").attr("dy", -7).text("|");
  t1.append("tspan").attr("dy", -11).attr("font-size", 18).text("2");

  const t2 = ov.append("text").attr("transform", `translate(492,${cy}) rotate(-90)`)
    .attr("text-anchor", "middle").attr("font-size", 27);
  t2.append("tspan").text("Imag(U");
  t2.append("tspan").attr("dy", 7).attr("font-size", 19).text("1,2,3,4");
  t2.append("tspan").attr("dy", -7).text(")");
});

ov.append("text").attr("x", 274).attr("y", 1601).attr("text-anchor", "middle").attr("font-size", 26).text("Time (t)");
const rl = ov.append("text").attr("x", 722).attr("y", 1601).attr("text-anchor", "middle").attr("font-size", 26);
rl.append("tspan").text("Real(U");
rl.append("tspan").attr("dy", 6).attr("font-size", 18).text("1,2,3,4");
rl.append("tspan").attr("dy", -6).text(")");
const ex = ov.append("text").attr("x", 456).attr("y", 1597).attr("font-size", 26);
ex.append("tspan").text("×10");
ex.append("tspan").attr("dy", -10).attr("font-size", 23).text("3");
</script>
</body></html>
